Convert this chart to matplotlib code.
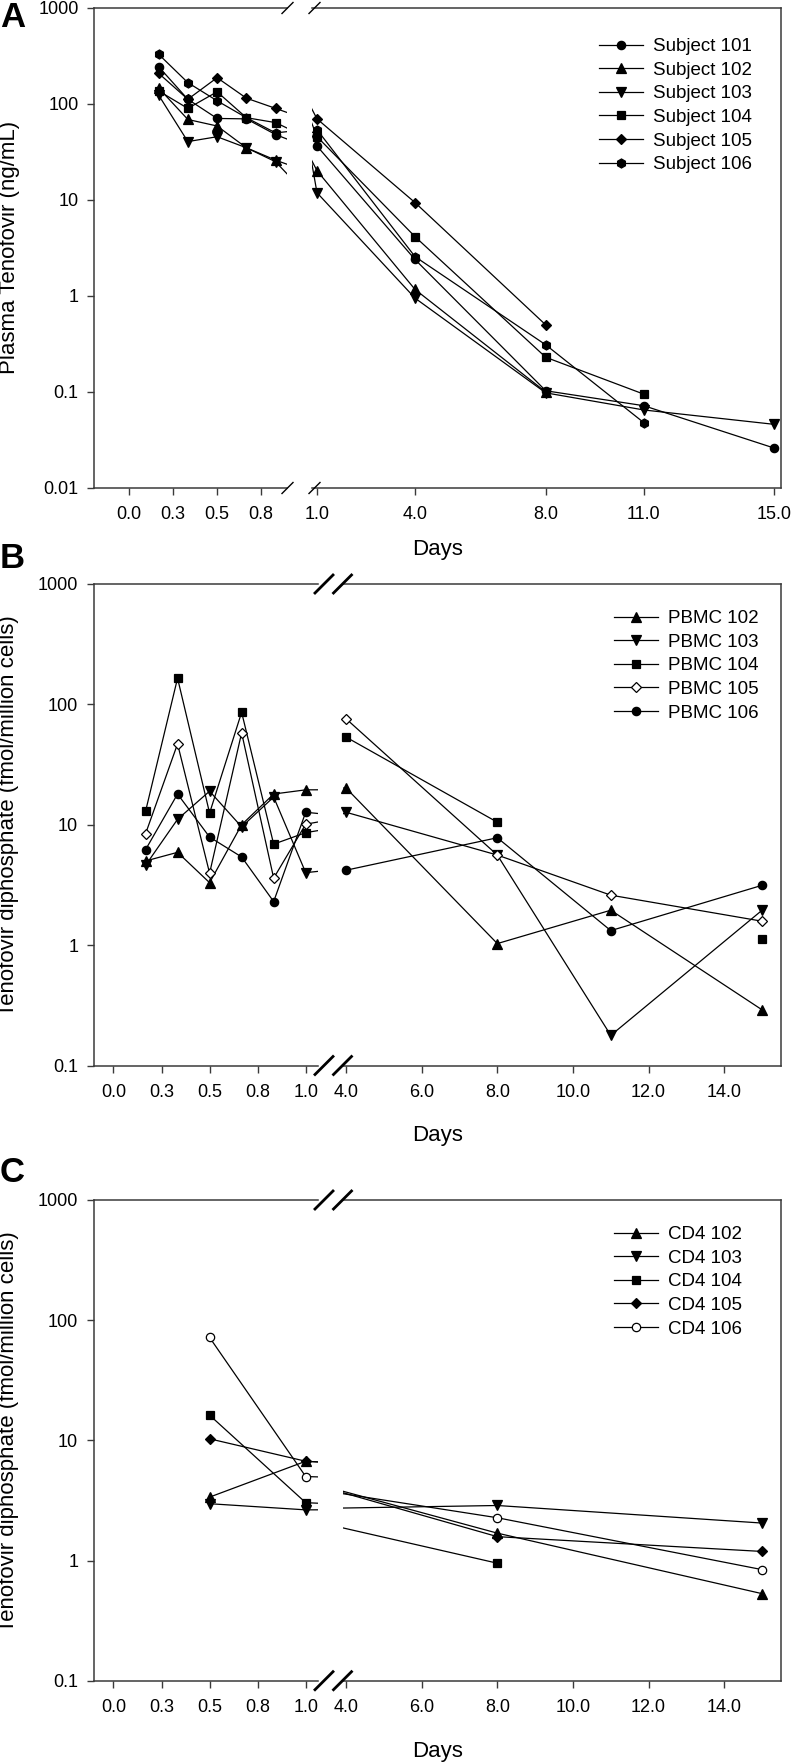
import numpy as np
import matplotlib.pyplot as plt
from matplotlib.lines import Line2D
from matplotlib.ticker import FixedLocator, NullLocator

plt.rcParams['font.family'] = ['Liberation Sans', 'DejaVu Sans']

## data
# panel A - plasma tenofovir (ng/mL)
daysA = [1/6, 1/3, 1/2, 2/3, 5/6, 1, 4, 8, 11, 15]
plasma101 = [245, 112, 70.7, 70, 48, 36.5, 2.4, 0.103, 0.072, 0.026]
plasma102 = [147, 69, 59, 35, 26, 20.2, 1.17, 0.1, np.nan, np.nan]
plasma103 = [124, 40.6, 45.6, 35, 25, 11.9, 0.95, 0.098, 0.065, 0.046]
plasma104 = [137, 90, 134, 72, 64, 45.7, 4.15, 0.23, 0.095, np.nan]
plasma105 = [209, 112, 188, 115, 90, 70, 9.4, 0.5, np.nan, np.nan]
plasma106 = [330, 167, 108, 72, 50, 54, 2.57, 0.31, 0.048, np.nan]

# panel B - PBMC tenofovir diphosphate (fmol/million cells)
daysB = [1/6, 1/3, 1/2, 2/3, 5/6, 1, 4, 8, 11, 15]
pbmc102 = [5.0, 5.9, 3.3, 10, 18, 19.5, 20.2, 1.03, 1.95, 0.29]
pbmc103 = [4.6, 11.1, 19, 9.6, 17, 4.0, 12.7, 5.6, 0.178, 1.95]
pbmc104 = [12.9, 165, 12.5, 86, 6.9, 8.6, 53.5, 10.5, np.nan, 1.13]
pbmc105 = [8.4, 47, 3.96, 58, 3.6, 10.1, 76, 5.6, 2.6, 1.58]
pbmc106 = [6.2, 18, 7.9, 5.4, 2.3, 12.7, 4.19, 7.8, 1.32, 3.14]

# panel C - CD4 tenofovir diphosphate
daysC = [0.5, 1, 8, 15]
cd4_102 = [3.37, 6.7, 1.69, 0.53]
cd4_103 = [2.97, 2.64, 2.87, 2.05]
cd4_104 = [16.2, 3.03, 0.95, np.nan]
cd4_105 = [10.3, 6.7, 1.58, 1.19]
cd4_106 = [71.8, 5.0, 2.27, 0.84]

# ticks
ticksA_left = [0, 0.25, 0.5, 0.75]
labelsA_left = ['0.0', '0.3', '0.5', '0.8']
ticksA_right = [1, 4, 8, 11, 15]
labelsA_right = ['1.0', '4.0', '8.0', '11.0', '15.0']
ticksBC_left = [0, 0.25, 0.5, 0.75, 1.0]
labelsBC_left = ['0.0', '0.3', '0.5', '0.8', '1.0']
ticksBC_right = [4, 6, 8, 10, 12, 14]
labelsBC_right = ['4.0', '6.0', '8.0', '10.0', '12.0', '14.0']
decadesA = [0.01, 0.1, 1, 10, 100, 1000]
decadeLabelsA = ['0.01', '0.1', '1', '10', '100', '1000']
decadesBC = [0.1, 1, 10, 100, 1000]
decadeLabelsBC = ['0.1', '1', '10', '100', '1000']

## figure in pixel coordinates
W, H = 792, 1764
fig = plt.figure(figsize=(W / 100, H / 100), dpi=100)
spinecol = '#3a3a3a'


def fx(px):
    return px / W


def fy(py):
    return 1 - py / H


def make_pair(xl0, xl1, xr0, xr1, ytop, ybot, limL, limR, ylim, yticks, ylabels, xtL, xlL, xtR, xlR):
    """two axes side by side making one broken x axis"""
    axL = fig.add_axes([fx(xl0), fy(ybot), (xl1 - xl0) / W, (ybot - ytop) / H])
    axR = fig.add_axes([fx(xr0), fy(ybot), (xr1 - xr0) / W, (ybot - ytop) / H])
    for ax, lim in ((axL, limL), (axR, limR)):
        ax.set_yscale('log')
        ax.set_ylim(*ylim)
        ax.set_xlim(*lim)
        for s in ax.spines.values():
            s.set_color(spinecol)
            s.set_linewidth(1.1)
        ax.yaxis.set_minor_locator(NullLocator())
        ax.xaxis.set_minor_locator(NullLocator())
        ax.tick_params(direction='out', length=5, width=1.0, color=spinecol,
                       labelsize=13, pad=8)
    axL.spines['right'].set_visible(False)
    axR.spines['left'].set_visible(False)
    axL.yaxis.set_major_locator(FixedLocator(yticks))
    axL.set_yticklabels(ylabels)
    axL.tick_params(axis='y', pad=6)
    axR.tick_params(axis='y', left=False, labelleft=False)
    axL.set_xticks(xtL)
    axL.set_xticklabels(xlL)
    axR.set_xticks(xtR)
    axR.set_xticklabels(xlR)
    return axL, axR


def slash(cx, cy, half, lw):
    fig.add_artist(Line2D([fx(cx - half), fx(cx + half)], [fy(cy + half), fy(cy - half)],
                          transform=fig.transFigure, color='k', lw=lw))


def draw(axes, days, vals, marker, ms, label, filled=True):
    """line over the whole range, markers only where they fall inside the segment"""
    style = dict(marker=marker, ms=ms, mfc='k' if filled else 'white', mec='k', mew=0.9)
    d = np.array(days)
    v = np.array(vals, dtype=float)
    for ax in axes:
        lo, hi = ax.get_xlim()
        ax.plot(d, v, color='k', lw=0.9)
        keep = (d >= lo) & (d <= hi)
        ax.plot(d[keep], v[keep], ls='none', clip_on=False, **style)
    return Line2D([], [], color='k', lw=0.9, label=label, **style)


legend_opts = dict(bbox_transform=fig.transFigure, loc='upper left', frameon=False, borderpad=0,
                   borderaxespad=0, handlelength=2.35, handletextpad=0.55, labelspacing=0.345,
                   fontsize=13.5)

## panel A
aL, aR = make_pair(94, 287, 312, 781, 8, 488, (-0.201, 0.898), (0.847, 15.2),
                   (0.01, 1000), decadesA, decadeLabelsA,
                   ticksA_left, labelsA_left, ticksA_right, labelsA_right)
hA = [draw((aL, aR), daysA, plasma101, 'o', 6, 'Subject 101'),
      draw((aL, aR), daysA, plasma102, '^', 6.5, 'Subject 102'),
      draw((aL, aR), daysA, plasma103, 'v', 6.5, 'Subject 103'),
      draw((aL, aR), daysA, plasma104, 's', 5.5, 'Subject 104'),
      draw((aL, aR), daysA, plasma105, 'D', 5.5, 'Subject 105'),
      draw((aL, aR), daysA, plasma106, 'h', 6.5, 'Subject 106')]
aR.legend(handles=hA, bbox_to_anchor=(fx(599), fy(38)), **legend_opts)
for yy in (8, 488):
    slash(287.5, yy, 5.5, 1.0)
    slash(314.5, yy, 5.5, 1.0)

## panel B
bL, bR = make_pair(93.5, 318, 343, 781, 584, 1065.5, (-0.104, 1.064), (3.92, 15.5),
                   (0.1, 1000), decadesBC, decadeLabelsBC,
                   ticksBC_left, labelsBC_left, ticksBC_right, labelsBC_right)
hB = [draw((bL, bR), daysB, pbmc102, '^', 6.5, 'PBMC 102'),
      draw((bL, bR), daysB, pbmc103, 'v', 6.5, 'PBMC 103'),
      draw((bL, bR), daysB, pbmc104, 's', 5.5, 'PBMC 104'),
      draw((bL, bR), daysB, pbmc105, 'D', 5.5, 'PBMC 105', filled=False),
      draw((bL, bR), daysB, pbmc106, 'o', 6, 'PBMC 106')]
bR.legend(handles=hB, bbox_to_anchor=(fx(614), fy(610)), **legend_opts)
for yy in (584, 1065.5):
    slash(324, yy, 9, 2.0)
    slash(342.5, yy, 9, 2.0)

## panel C
cL, cR = make_pair(93.5, 318, 343, 781, 1200, 1680.7, (-0.104, 1.064), (3.92, 15.5),
                   (0.1, 1000), decadesBC, decadeLabelsBC,
                   ticksBC_left, labelsBC_left, ticksBC_right, labelsBC_right)
hC = [draw((cL, cR), daysC, cd4_102, '^', 6.5, 'CD4 102'),
      draw((cL, cR), daysC, cd4_103, 'v', 6.5, 'CD4 103'),
      draw((cL, cR), daysC, cd4_104, 's', 5.5, 'CD4 104'),
      draw((cL, cR), daysC, cd4_105, 'D', 5.5, 'CD4 105'),
      draw((cL, cR), daysC, cd4_106, 'o', 6, 'CD4 106', filled=False)]
cR.legend(handles=hC, bbox_to_anchor=(fx(614), fy(1226)), **legend_opts)
for yy in (1200, 1680.7):
    slash(324, yy, 9, 2.0)
    slash(342.5, yy, 9, 2.0)

## labels
fig.text(fx(10), fy(247), 'Plasma Tenofovir (ng/mL)', rotation=90, ha='center', va='center', fontsize=16)
fig.text(fx(9), fy(816), 'Tenofovir diphosphate (fmol/million cells)', rotation=90, ha='center', va='center', fontsize=16)
fig.text(fx(9), fy(1432), 'Tenofovir diphosphate (fmol/million cells)', rotation=90, ha='center', va='center', fontsize=16)
for yy in (549, 1136, 1751):
    fig.text(fx(437.5), fy(yy), 'Days', ha='center', va='center', fontsize=16)
for letter, yy in (('A', 17.5), ('B', 559), ('C', 1173)):
    fig.text(fx(0), fy(yy), letter, ha='left', va='center', fontsize=25, fontweight='bold')

fig.savefig('out.png', dpi=100)
